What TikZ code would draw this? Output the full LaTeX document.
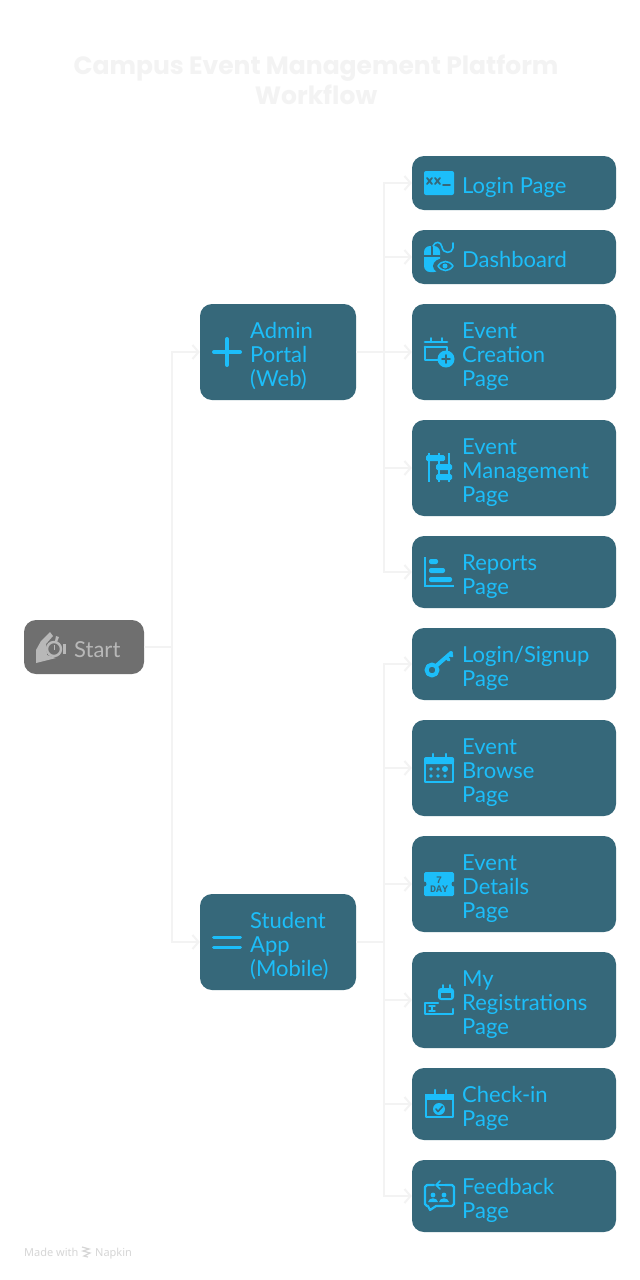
\documentclass[tikz,border=0pt]{standalone}
\usepackage{fontspec}
\setmainfont{Lato}
\newfontfamily\titlefont{Poppins}
\newfontfamily\markfont{Noto Sans}
\newfontfamily\ticketfont{Liberation Mono}
\usetikzlibrary{arrows.meta}
\definecolor{boxc}{HTML}{36687A}
\definecolor{iconc}{HTML}{1CBEFA}
\definecolor{startc}{HTML}{6F6F6F}
\definecolor{startt}{HTML}{B8B8B8}
\definecolor{linec}{HTML}{F3F3F3}
\definecolor{markc}{HTML}{D6D6D6}
\tikzset{
  flowbox/.style={rectangle,rounded corners=12pt,fill=boxc,inner sep=0pt,draw=none},
  startbox/.style={flowbox,fill=startc},
  lbl/.style={anchor=west,inner sep=0pt,align=left,text=iconc,font=\fontsize{22}{24}\selectfont},
  startlbl/.style={lbl,text=startt},
  conn/.style={draw=linec,line width=2pt,-{Straight Barb[length=6pt,width=14pt,line width=2pt]}},
  iconfill/.style={fill=iconc,draw=none},
  iconline/.style={draw=iconc,line width=2.8pt,fill=none,line cap=round,line join=round},
  icondark/.style={draw=boxc,line width=1.8pt,fill=none,line cap=round,line join=round},
  icondarkfill/.style={fill=boxc,draw=none},
  startfill/.style={fill=startt,draw=none},
  startline/.style={draw=startt,line width=2.4pt,fill=none},
  titlelbl/.style={text=linec,align=center,inner sep=0pt,font=\titlefont\bfseries\fontsize{25}{30}\selectfont},
  marklbl/.style={anchor=base west,inner sep=0pt,text=markc,font=\markfont\fontsize{11}{13}\selectfont},
}
\newcommand\lblstrut{\rule[-7.2pt]{0pt}{24pt}}
% style, name, x1, x2, y1, y2, text x, label style, text
\newcommand\flowitem[9]{%
  \node[#1,minimum width={#4-#3},minimum height={#6-#5}] (#2) at ({(#3+#4)/2},{(#5+#6)/2}) {};
  \node[#8] (#2t) at (#7,{(#5+#6)/2+5.2}) {\lblstrut #9\lblstrut};
}
\begin{document}
\begin{tikzpicture}[x=1pt,y=-1pt]
\fill[white] (0,0) rectangle (640,1280);
\useasboundingbox (0,0) rectangle (640,1280);

\node[titlelbl] (title) at (316,80) {Campus Event Management Platform\\Workflow};

\flowitem{startbox}{start}{24}{144}{620}{674}{74}{startlbl}{Start}
\flowitem{flowbox}{admin}{200}{356}{304}{400}{250}{lbl}{Admin\\Portal\\(Web)}
\flowitem{flowbox}{student}{200}{356}{894}{990}{250}{lbl}{Student\\App\\(Mobile)}
\flowitem{flowbox}{login}{412}{616}{156}{210}{462}{lbl}{Login Page}
\flowitem{flowbox}{dash}{412}{616}{230}{284}{462}{lbl}{Dashboard}
\flowitem{flowbox}{create}{412}{616}{304}{400}{462}{lbl}{Event\\Creation\\Page}
\flowitem{flowbox}{manage}{412}{616}{420}{516}{462}{lbl}{Event\\Management\\Page}
\flowitem{flowbox}{reports}{412}{616}{536}{608}{462}{lbl}{Reports\\Page}
\flowitem{flowbox}{signup}{412}{616}{628}{700}{462}{lbl}{Login/Signup\\Page}
\flowitem{flowbox}{browse}{412}{616}{720}{816}{462}{lbl}{Event\\Browse\\Page}
\flowitem{flowbox}{details}{412}{616}{836}{932}{462}{lbl}{Event\\Details\\Page}
\flowitem{flowbox}{myreg}{412}{616}{952}{1048}{462}{lbl}{My\\Registrations\\Page}
\flowitem{flowbox}{checkin}{412}{616}{1068}{1140}{462}{lbl}{Check-in\\Page}
\flowitem{flowbox}{feedback}{412}{616}{1160}{1232}{462}{lbl}{Feedback\\Page}

% connectors
\coordinate (busS) at (172,647);
\coordinate (busA) at (384,352);
\coordinate (busB) at (384,942);
\draw[conn] (start.east) -- (busS) |- (admin.west);
\draw[conn] (start.east) -- (busS) |- (student.west);
\foreach \t in {login,dash,create,manage,reports}
  \draw[conn] (admin.east) -- (busA) |- (\t.west);
\foreach \t in {signup,browse,details,myreg,checkin,feedback}
  \draw[conn] (student.east) -- (busB) |- (\t.west);

% --- icons ---
% start: hand and stopwatch
\fill[startfill] (36,650) -- (41,641) -- (50,632) -- (53,636) -- (46,644) -- (47,655) -- (56,658) -- (44,661) -- (36,663) -- cycle;
\draw[startline] (54,649) circle[radius=7];
\fill[startfill] (54,645) rectangle (55,650);
\fill[startfill] (63,644) rectangle (66,654);
\fill[startfill] (56,636) -- (59,637) -- (57,642) -- (55,641) -- cycle;

% admin plus
\draw[iconline,line width=4pt] (214,352) -- (240,352);
\draw[iconline,line width=4pt] (227,339) -- (227,365);
% student equals
\draw[iconline,line width=3pt] (213.5,937) -- (240.5,937);
\draw[iconline,line width=3pt] (213.5,947) -- (240.5,947);

% login
\begin{scope}[shift={(439,183)}]
  \fill[iconfill,rounded corners=2pt] (-15,-12) rectangle (15,12);
  \draw[icondark] (-12,-5) -- (-7,1) (-12,1) -- (-7,-5);
  \draw[icondark] (-4,-5) -- (1,1) (-4,1) -- (1,-5);
  \draw[icondark] (4,2) -- (11,2);
\end{scope}
% dashboard
\begin{scope}[shift={(439,257)}]
  \fill[iconfill,rounded corners=6pt] (-15,-11) rectangle (1,15);
  \draw[icondark,line width=1.4pt] (-7,-11) -- (-7,-1) (-15,-1) -- (1,-1);
  \draw[iconline,line width=1.6pt] (-6,-11) .. controls (-4,-16) and (2,-16) .. (3,-10) .. controls (4,-3) and (13,-3) .. (14,-9) -- (14,-14);
  \fill[boxc] (6,9) ellipse[x radius=12,y radius=8];
  \draw[iconline,line width=1.6pt] (-1,9) .. controls (3,3) and (10,3) .. (14,9) .. controls (10,15) and (3,15) .. (-1,9) -- cycle;
  \fill[iconfill] (6,9) circle[radius=2.5];
\end{scope}
% event creation
\begin{scope}[shift={(439,352)}]
  \draw[iconline] (-14,-5) -- (8,-5) -- (8,0);
  \draw[iconline] (-14,-5) -- (-14,8) -- (0,8);
  \draw[iconline] (-14,-10) -- (8,-10);
  \draw[iconline,line width=1.8pt] (-8,-14) -- (-8,-10) (3,-14) -- (3,-10);
  \fill[iconfill] (7,7) circle[radius=8.5];
  \draw[icondark] (3,7) -- (11,7) (7,3) -- (7,11);
\end{scope}
% event management
\begin{scope}[shift={(439,468)}]
  \fill[iconfill] (-11.2,-15) rectangle (-8.8,14);
  \fill[iconfill] (-1.2,-15) rectangle (1.2,14);
  \fill[iconfill] (8.8,-15) rectangle (11.2,14);
  \fill[iconfill,rounded corners=1.5pt] (-13,-13) rectangle (6,-7);
  \fill[iconfill,rounded corners=1.5pt] (-3,-4) rectangle (13,2);
  \fill[iconfill,rounded corners=1.5pt] (-3,6) rectangle (13,12);
\end{scope}
% reports
\begin{scope}[shift={(439,572)}]
  \draw[iconline,line cap=butt,line join=miter,line width=2.4pt] (-14,-15) -- (-14,14) -- (15,14);
  \fill[iconfill,rounded corners=2pt] (-10,-13) rectangle (-1,-8);
  \fill[iconfill,rounded corners=2pt] (-10,-4) rectangle (6,1);
  \fill[iconfill,rounded corners=2pt] (-10,5) rectangle (13,10);
\end{scope}
% key
\begin{scope}[shift={(439,664)}]
  \draw[iconline,line width=4pt] (-7,6) circle[radius=5.5];
  \draw[iconline,line width=4pt] (-3,2) -- (12,-11);
  \draw[iconline,line width=3.5pt] (7,-7) -- (10,-4);
  \draw[iconline,line width=3.5pt] (11,-10) -- (13,-8);
\end{scope}
% browse
\begin{scope}[shift={(439,768)}]
  \draw[iconline,line width=2.6pt] (-14,-9) rectangle (14,14);
  \fill[iconfill,rounded corners=2pt] (-15,-11) rectangle (15,-4);
  \draw[iconline,line width=2.2pt] (-6,-14) -- (-6,-10) (7,-14) -- (7,-10);
  \foreach \px in {-8,-1} { \fill[iconfill] (\px,1) circle[radius=1.9]; }
  \fill[iconfill] (6,1) circle[radius=3];
  \foreach \px in {-8,-1,6} { \fill[iconfill] (\px,8) circle[radius=1.9]; }
\end{scope}
% details ticket
\begin{scope}[shift={(439,884)}]
  \fill[iconfill,rounded corners=1.5pt] (-15,-12) rectangle (15,12);
  \fill[boxc] (-15,0) circle[radius=2.5];
  \fill[boxc] (15,0) circle[radius=2.5];
  \node[inner sep=0pt,text=boxc,align=center,font=\ticketfont\bfseries\fontsize{10}{9}\selectfont] (ticket) at (0,0.5) {7\\DAY};
\end{scope}
% my registrations
\begin{scope}[shift={(439,1000)}]
  \draw[iconline,line width=2.4pt] (-1,3) -- (-14,3) -- (-14,14) -- (14,14) -- (14,9);
  \fill[iconfill,rounded corners=3pt] (-1,-12) rectangle (15,0);
  \fill[icondarkfill] (2,-7) rectangle (12,-2);
  \draw[iconline,line width=1.6pt] (4,-15) -- (4,-12) (11,-15) -- (11,-12);
  \draw[iconline,line width=1.4pt] (-10,6) -- (-4,6) (-7,6) -- (-7,11) (-10,11) -- (-4,11);
\end{scope}
% check-in
\begin{scope}[shift={(439,1104)}]
  \draw[iconline,line width=2.6pt] (-13,-7) rectangle (14,13);
  \fill[iconfill] (-14,-10) rectangle (15,-4);
  \draw[iconline,line width=2.2pt] (-4,-14) -- (-4,-9) (7,-14) -- (7,-9);
  \fill[iconfill] (0,5) circle[radius=6];
  \draw[icondark,line width=1.6pt] (-3,5) -- (-1,7.5) -- (3.5,2.5);
\end{scope}
% feedback
\begin{scope}[shift={(439,1196)}]
  \draw[iconline,line width=2.2pt] (-5,-11) -- (-12,-11) -- (-14,-9) -- (-14,8) -- (-12,10) -- (-11,10) -- (-9,14) -- (-3,10) -- (13,10) -- (15,8) -- (15,-9) -- (13,-11) -- (6,-11);
  \draw[iconline,line width=1.6pt] (8,-11) -- (-3,-11) (1,-15) -- (-3,-11) -- (1,-7);
  \fill[iconfill] (-6,-1) circle[radius=2.4];
  \fill[iconfill] (5,-1) circle[radius=2.4];
  \fill[iconfill] (-11,6) .. controls (-10,1) and (-2,1) .. (-1,6) -- cycle;
  \fill[iconfill] (0,6) .. controls (1,1) and (9,1) .. (10,6) -- cycle;
\end{scope}

% watermark
\node[marklbl] (madewith) at (24,1256) {Made with};
\node[marklbl] (napkin) at (95,1256) {Napkin};
\draw[markc,line width=1.2pt] (82,1247) -- (89,1249) -- (83,1251) -- (90,1253) -- (84,1256) -- (88,1257);
\end{tikzpicture}
\end{document}
